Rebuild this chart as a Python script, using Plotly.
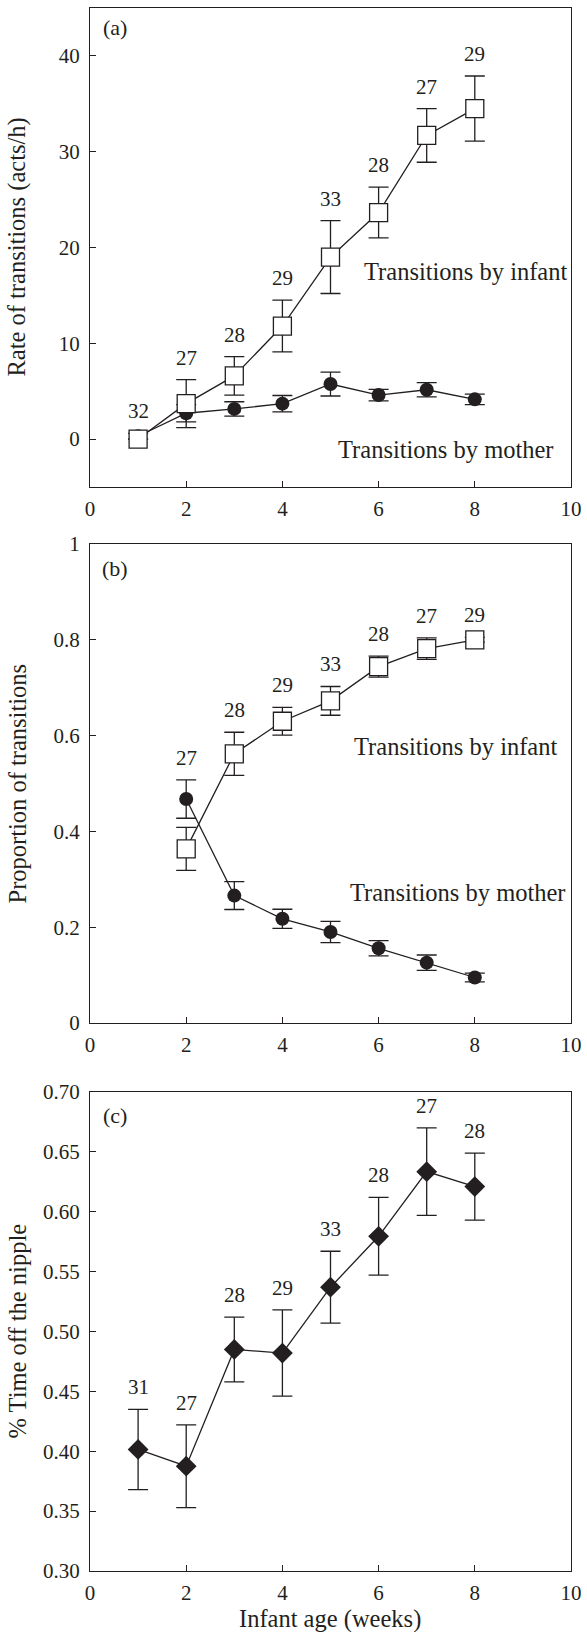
import plotly.graph_objects as go

# ---------------- data ----------------
weeks = [1, 2, 3, 4, 5, 6, 7, 8]

# (a) rate of transitions (acts/h)
a_infant = [0.0, 3.7, 6.6, 11.8, 19.0, 23.65, 31.7, 34.5]
a_infant_err = [0.0, 2.5, 2.0, 2.7, 3.8, 2.65, 2.8, 3.4]
a_mother = [0.3, 2.7, 3.15, 3.7, 5.75, 4.6, 5.15, 4.15]
a_mother_err = [0.3, 0.9, 0.75, 0.85, 1.25, 0.6, 0.75, 0.55]
a_counts = [32, 27, 28, 29, 33, 28, 27, 29]

# (b) proportion of transitions
weeks_b = [2, 3, 4, 5, 6, 7, 8]
b_infant = [0.3635, 0.562, 0.630, 0.6725, 0.744, 0.7815, 0.800]
b_infant_err = [0.045, 0.045, 0.029, 0.030, 0.022, 0.0225, 0.005]
b_mother = [0.4675, 0.266, 0.2175, 0.190, 0.156, 0.126, 0.095]
b_mother_err = [0.040, 0.029, 0.020, 0.022, 0.016, 0.016, 0.009]
b_counts = [27, 28, 29, 33, 28, 27, 29]

# (c) % time off the nipple
c_values = [0.4015, 0.3875, 0.485, 0.482, 0.537, 0.5795, 0.6335, 0.621]
c_err = [0.0335, 0.0345, 0.027, 0.036, 0.030, 0.0325, 0.0365, 0.028]
c_counts = [31, 27, 28, 29, 33, 28, 27, 28]

x_ticks = [0, 2, 4, 6, 8, 10]

# ---------------- layout constants ----------------
W, H = 587, 1632
INK = "#231f20"
FAM = "'Liberation Serif', 'Times New Roman', Tinos, 'DejaVu Serif', serif"
TICK_FONT = dict(family=FAM, size=21, color=INK)
TEXT_FONT = dict(family=FAM, size=24.5, color=INK)
PANEL_FONT = dict(family=FAM, size=22, color=INK)
LW = 1.3


def px_x(p):
    return p / W


def px_y(p):
    return 1 - p / H


x_dom = [px_x(90), px_x(571)]
panels = {
    "a": (8, 487),
    "b": (544, 1023),
    "c": (1092, 1571),
}

fig = go.Figure()


def err(arr):
    return dict(type="data", array=arr, visible=True, color=INK, thickness=LW, width=10)


line = dict(color=INK, width=LW)
sq = dict(symbol="square", size=18, color="white", line=dict(color=INK, width=LW))
circ = dict(symbol="circle", size=14, color=INK, line=dict(color=INK, width=0))
dia = dict(symbol="diamond", size=16, color=INK, line=dict(color=INK, width=0))

fig.add_trace(go.Scatter(x=weeks, y=a_mother, error_y=err(a_mother_err), mode="lines+markers",
                         line=line, marker=circ, xaxis="x", yaxis="y", showlegend=False))
fig.add_trace(go.Scatter(x=weeks, y=a_infant, error_y=err(a_infant_err), mode="lines+markers",
                         line=line, marker=sq, xaxis="x", yaxis="y", showlegend=False))
fig.add_trace(go.Scatter(x=weeks_b, y=b_mother, error_y=err(b_mother_err), mode="lines+markers",
                         line=line, marker=circ, xaxis="x2", yaxis="y2", showlegend=False))
fig.add_trace(go.Scatter(x=weeks_b, y=b_infant, error_y=err(b_infant_err), mode="lines+markers",
                         line=line, marker=sq, xaxis="x2", yaxis="y2", showlegend=False))
fig.add_trace(go.Scatter(x=weeks, y=c_values, error_y=err(c_err), mode="lines+markers",
                         line=line, marker=dia, xaxis="x3", yaxis="y3", showlegend=False))

annotations = []


def count_labels(xs, tops, counts, xref, yref, shift):
    for xv, tv, n in zip(xs, tops, counts):
        annotations.append(dict(x=xv, y=tv, xref=xref, yref=yref, text=str(n), showarrow=False,
                                font=TICK_FONT, xanchor="center", yanchor="middle", yshift=shift))


# labels sit just above the highest error bar (or marker) at each week
a_tops = [max(v1 + e1, v2 + e2) for v1, e1, v2, e2 in zip(a_infant, a_infant_err, a_mother, a_mother_err)]
b_tops = [max(v1 + e1, v2 + e2) for v1, e1, v2, e2 in zip(b_infant, b_infant_err, b_mother, b_mother_err)]
c_tops = [v + e for v, e in zip(c_values, c_err)]
count_labels(weeks, a_tops, a_counts, "x", "y", 22)
count_labels(weeks_b, b_tops, b_counts, "x2", "y2", 22)
count_labels(weeks, c_tops, c_counts, "x3", "y3", 22)


def txt(x, y, xref, yref, s, font=TEXT_FONT, **kw):
    d = dict(x=x, y=y, xref=xref, yref=yref, text=s, showarrow=False, font=font,
             xanchor="center", yanchor="middle")
    d.update(kw)
    annotations.append(d)


txt(0.53, 43.0, "x", "y", "(a)", PANEL_FONT)
txt(0.53, 0.948, "x2", "y2", "(b)", PANEL_FONT)
txt(0.53, 0.680, "x3", "y3", "(c)", PANEL_FONT)

txt(7.8, 17.5, "x", "y", "Transitions by infant")
txt(7.4, -1.05, "x", "y", "Transitions by mother")
txt(7.6, 0.578, "x2", "y2", "Transitions by infant")
txt(7.66, 0.272, "x2", "y2", "Transitions by mother")

titles = {"a": "Rate of transitions (acts/h)", "b": "Proportion of transitions", "c": "% Time off the nipple"}
for k, (t, b) in panels.items():
    txt(px_x(17), px_y((t + b) / 2), "paper", "paper", titles[k], textangle=-90)
txt((x_dom[0] + x_dom[1]) / 2, px_y(1619), "paper", "paper", "Infant age (weeks)")


def xaxis(anchor):
    return dict(domain=x_dom, anchor=anchor, range=[0, 10], tickvals=x_ticks, ticks="inside",
                ticklen=6, tickwidth=LW, tickcolor=INK, showline=True, linecolor=INK, linewidth=LW,
                mirror=True, showgrid=False, zeroline=False, tickfont=TICK_FONT, ticklabelstandoff=3,
                automargin=False)


def yaxis(anchor, key, rng, dtick, fmt=None):
    t, b = panels[key]
    d = dict(domain=[px_y(b), px_y(t)], anchor=anchor, range=rng, tick0=0, dtick=dtick,
             ticks="inside", ticklen=6, tickwidth=LW, tickcolor=INK, showline=True, linecolor=INK,
             linewidth=LW, mirror=True, showgrid=False, zeroline=False, tickfont=TICK_FONT,
             ticklabelstandoff=5, automargin=False)
    if fmt:
        d["tickformat"] = fmt
    return d


fig.update_layout(
    width=W, height=H, margin=dict(l=0, r=0, t=0, b=0, pad=0), autosize=False,
    paper_bgcolor="white", plot_bgcolor="white",
    xaxis=xaxis("y"), xaxis2=xaxis("y2"), xaxis3=xaxis("y3"),
    yaxis=yaxis("x", "a", [-5, 45], 10),
    yaxis2=yaxis("x2", "b", [0, 1], 0.2),
    yaxis3=yaxis("x3", "c", [0.30, 0.70], 0.05, ".2f"),
    annotations=annotations,
    font=TICK_FONT,
)

fig.write_html("out.html")
